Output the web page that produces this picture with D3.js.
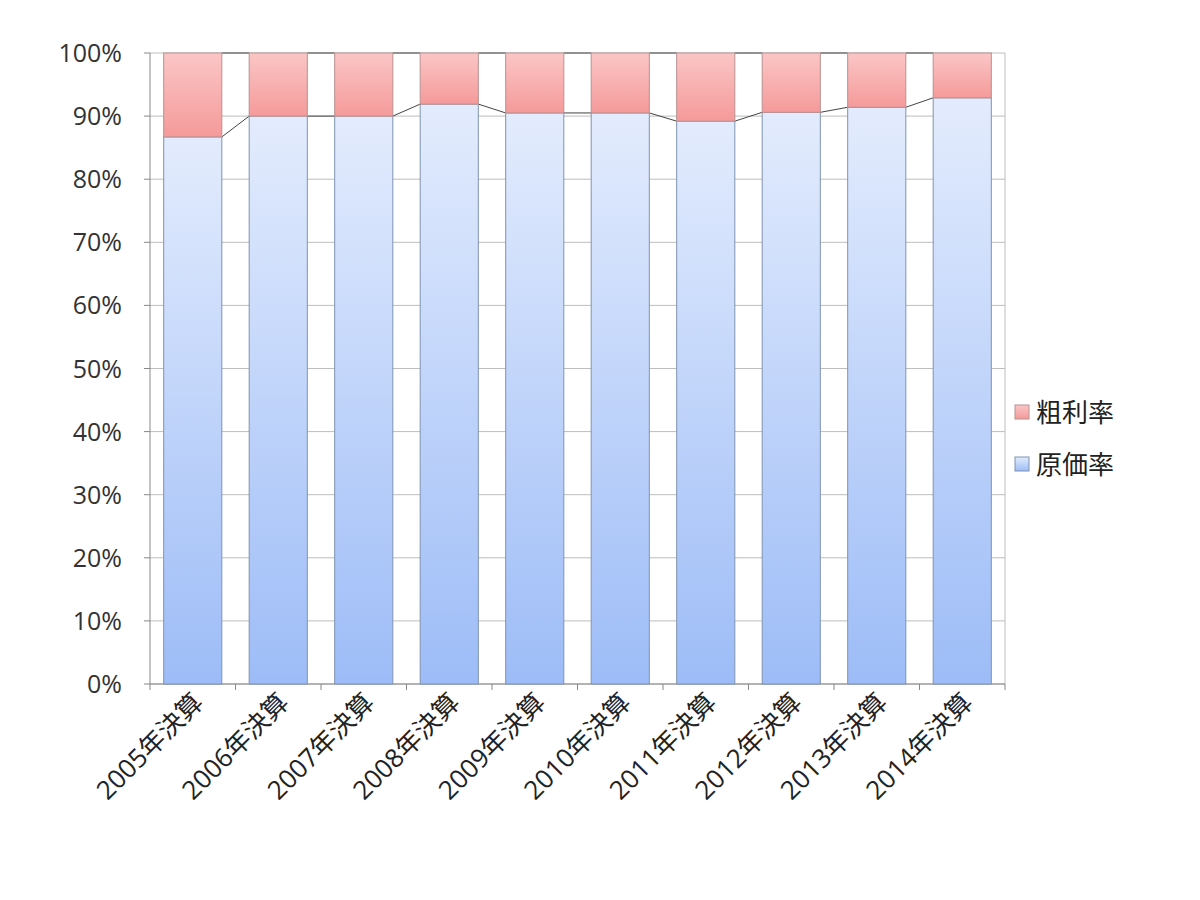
<!DOCTYPE html><html><head><meta charset="utf-8">
<script src="https://cdn.jsdelivr.net/npm/d3@7"></script>
<style>body{margin:0;background:#fff}</style></head><body>
<svg id="c" width="1200" height="900"></svg>
<script>
const categories=["2005年決算","2006年決算","2007年決算","2008年決算","2009年決算","2010年決算","2011年決算","2012年決算","2013年決算","2014年決算"];
const costRate=[86.7,90.0,90.0,91.9,90.5,90.5,89.2,90.6,91.4,92.9];
const grossRate=costRate.map(v=>100-v);
const yTicks=[0,10,20,30,40,50,60,70,80,90,100];
const svg=d3.select("#c");
const font="'Open Sans','Noto Sans CJK JP',sans-serif";
const x=d3.scaleBand().domain(categories).range([150,1005]).paddingInner(0.32).paddingOuter(0.16);
const y=d3.scaleLinear().domain([0,100]).range([684,53]);
const defs=svg.append("defs");
const gb=defs.append("linearGradient").attr("id","gb").attr("x1",0).attr("y1",0).attr("x2",0).attr("y2",1);
gb.append("stop").attr("offset",0).attr("stop-color","#e3ecfd");gb.append("stop").attr("offset",1).attr("stop-color","#9dbcf7");
const gr=defs.append("linearGradient").attr("id","gr").attr("x1",0).attr("y1",0).attr("x2",0).attr("y2",1);
gr.append("stop").attr("offset",0).attr("stop-color","#fbc6c6");gr.append("stop").attr("offset",1).attr("stop-color","#f59a9a");
svg.append("g").selectAll("line").data(yTicks).join("line").attr("x1",150).attr("x2",1005).attr("y1",d=>y(d)).attr("y2",d=>y(d)).attr("stroke","#bdbdbd");
svg.append("line").attr("x1",1005).attr("x2",1005).attr("y1",53).attr("y2",684).attr("stroke","#bdbdbd");
svg.append("line").attr("x1",150).attr("x2",150).attr("y1",53).attr("y2",684).attr("stroke","#888");
svg.append("g").selectAll("line").data(yTicks).join("line").attr("x1",144).attr("x2",150).attr("y1",d=>y(d)).attr("y2",d=>y(d)).attr("stroke","#888");
svg.append("g").selectAll("line").data(d3.range(11)).join("line").attr("x1",d=>150+d*85.5).attr("x2",d=>150+d*85.5).attr("y1",684).attr("y2",690).attr("stroke","#888");
svg.append("line").attr("x1",150).attr("x2",1005).attr("y1",684).attr("y2",684).attr("stroke","#888");
svg.append("g").selectAll("text").data(yTicks).join("text").attr("x",122).attr("y",d=>y(d)+9).attr("text-anchor","end").attr("font-family",font).attr("font-size",25).attr("fill","#333").text(d=>d+"%");
const sl=svg.append("g").attr("stroke","#444").attr("stroke-width",1);
for(let i=0;i<categories.length-1;i++){
 const x1=x(categories[i])+x.bandwidth(),x2=x(categories[i+1]);
 sl.append("line").attr("x1",x1).attr("x2",x2).attr("y1",y(costRate[i])).attr("y2",y(costRate[i+1]));
 sl.append("line").attr("x1",x1).attr("x2",x2).attr("y1",y(100)).attr("y2",y(100));
}
svg.append("g").selectAll("rect").data(categories).join("rect").attr("x",d=>x(d)).attr("width",x.bandwidth()).attr("y",(d,i)=>y(costRate[i])).attr("height",(d,i)=>y(0)-y(costRate[i])).attr("fill","url(#gb)").attr("stroke","#7f93b0");
svg.append("g").selectAll("rect").data(categories).join("rect").attr("x",d=>x(d)).attr("width",x.bandwidth()).attr("y",y(100)).attr("height",(d,i)=>y(costRate[i])-y(100)).attr("fill","url(#gr)").attr("stroke","#b99090");
svg.append("g").selectAll("text").data(categories).join("text").attr("transform",d=>`translate(${x(d)+x.bandwidth()/2+12},${704}) rotate(-45)`).attr("text-anchor","end").attr("font-family",font).attr("font-size",26).attr("fill","#222").text(d=>d);
const leg=[["粗利率","url(#gr)","#b99090",412],["原価率","url(#gb)","#7f93b0",464]];
leg.forEach(l=>{svg.append("rect").attr("x",1015).attr("y",l[3]-7).attr("width",14).attr("height",14).attr("fill",l[1]).attr("stroke",l[2]);
svg.append("text").attr("x",1036).attr("y",l[3]+10).attr("font-family",font).attr("font-size",26).attr("fill","#222").text(l[0]);});
</script></body></html>
